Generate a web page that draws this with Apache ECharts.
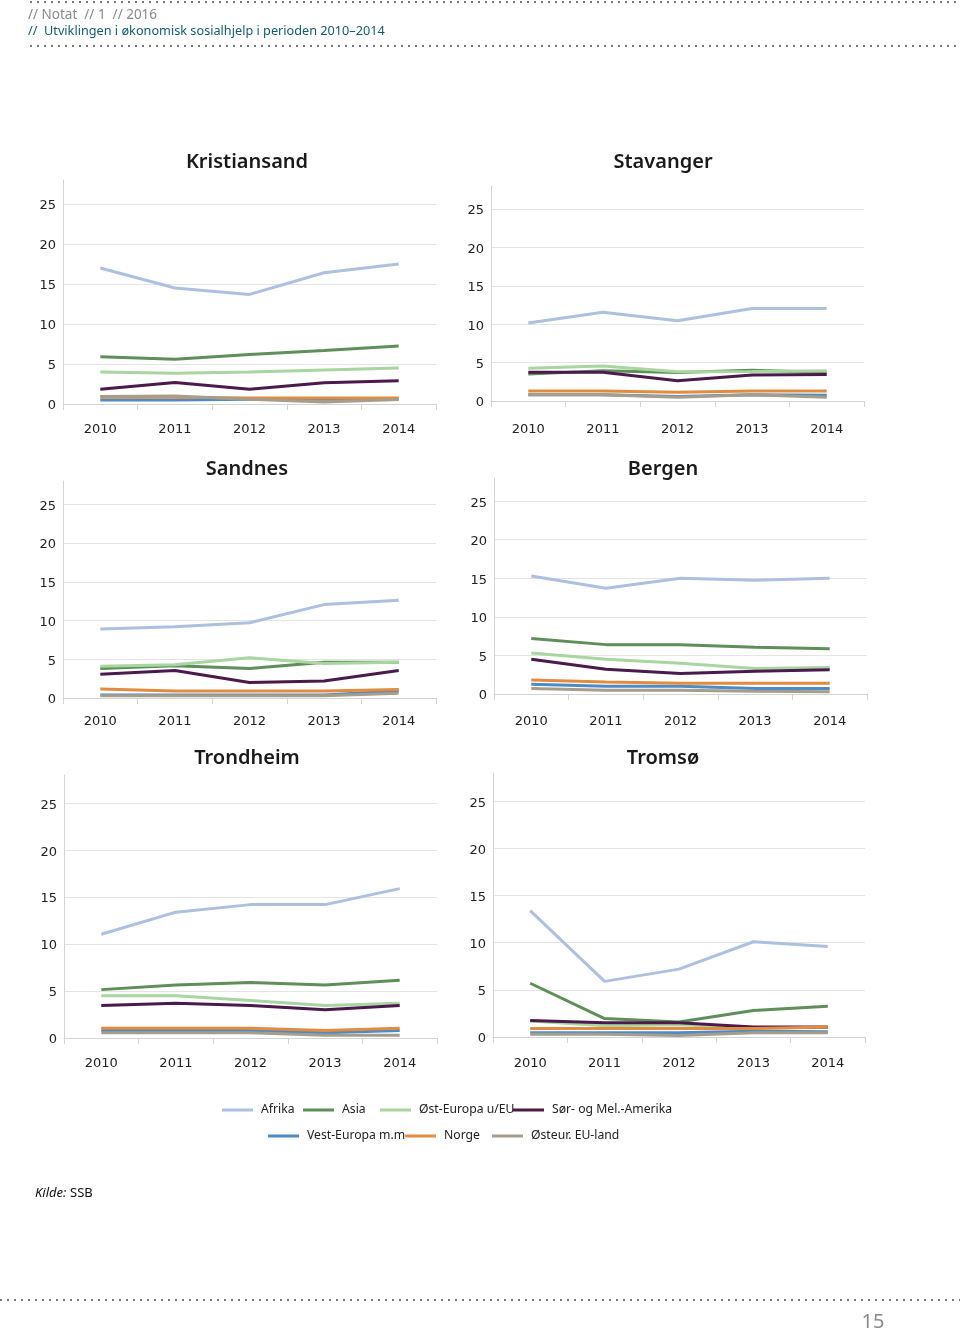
<!DOCTYPE html>
<html><head><meta charset="utf-8">
<script src="https://cdn.jsdelivr.net/npm/echarts@6/dist/echarts.min.js"></script>
<style>html,body{margin:0;padding:0;background:#fff}#c{width:960px;height:1334px}</style>
</head><body><div id="c"></div><script>
// ---------- data ----------
const years = ['2010', '2011', '2012', '2013', '2014'];
const groups = ['Afrika', 'Asia', 'Øst-Europa u/EU', 'Sør- og Mel.-Amerika', 'Vest-Europa m.m', 'Norge', 'Østeur. EU-land'];
const cities = ['Kristiansand', 'Stavanger', 'Sandnes', 'Bergen', 'Trondheim', 'Tromsø'];
const yTicks = [0, 5, 10, 15, 20, 25];

// rows follow the order of `groups`
const kristiansand = [
  [17.0, 14.5, 13.7, 16.4, 17.5],
  [5.9, 5.6, 6.2, 6.7, 7.25],
  [4.0, 3.85, 4.0, 4.25, 4.5],
  [1.85, 2.7, 1.85, 2.65, 2.9],
  [0.5, 0.5, 0.6, 0.6, 0.6],
  [0.85, 0.85, 0.75, 0.75, 0.75],
  [0.95, 1.0, 0.6, 0.25, 0.55]
];
const stavanger = [
  [10.15, 11.55, 10.45, 12.05, 12.05],
  [3.5, 3.95, 3.7, 4.0, 3.7],
  [4.25, 4.55, 3.8, 3.85, 3.95],
  [3.75, 3.75, 2.65, 3.4, 3.45],
  [0.8, 0.8, 0.6, 0.8, 0.75],
  [1.3, 1.3, 1.15, 1.3, 1.3],
  [0.8, 0.8, 0.5, 0.8, 0.5]
];
const sandnes = [
  [8.9, 9.2, 9.7, 12.05, 12.6],
  [3.8, 4.15, 3.8, 4.6, 4.6],
  [4.1, 4.3, 5.2, 4.45, 4.6],
  [3.05, 3.55, 2.0, 2.2, 3.55],
  [0.4, 0.4, 0.4, 0.4, 0.9],
  [1.15, 0.9, 0.9, 0.9, 1.1],
  [0.3, 0.3, 0.3, 0.3, 0.6]
];
const bergen = [
  [15.3, 13.7, 15.0, 14.75, 15.0],
  [7.2, 6.4, 6.4, 6.05, 5.85],
  [5.3, 4.5, 4.0, 3.3, 3.45],
  [4.5, 3.2, 2.65, 2.95, 3.15],
  [1.25, 1.0, 1.0, 0.7, 0.7],
  [1.8, 1.55, 1.4, 1.4, 1.4],
  [0.7, 0.5, 0.5, 0.35, 0.3]
];
const trondheim = [
  [11.05, 13.4, 14.2, 14.2, 15.9],
  [5.15, 5.65, 5.9, 5.65, 6.15],
  [4.5, 4.5, 4.0, 3.45, 3.7],
  [3.45, 3.7, 3.45, 3.0, 3.45],
  [0.8, 0.8, 0.8, 0.55, 0.8],
  [1.05, 1.05, 1.05, 0.8, 1.05],
  [0.55, 0.55, 0.55, 0.3, 0.3]
];
const tromso = [
  [13.4, 5.9, 7.2, 10.1, 9.6],
  [5.7, 1.95, 1.6, 2.8, 3.25],
  [1.7, 1.2, 1.3, 0.95, 1.0],
  [1.75, 1.5, 1.5, 1.05, 1.05],
  [0.45, 0.45, 0.45, 0.6, 0.55],
  [0.9, 0.9, 0.9, 0.9, 1.05],
  [0.3, 0.3, 0.15, 0.45, 0.45]
];
const cityData = [kristiansand, stavanger, sandnes, bergen, trondheim, tromso];

// ---------- style / layout ----------
const colors = ['#adc0df', '#5e8f58', '#a9d5a1', '#4b1a4c', '#4c8bc6', '#e38b3e', '#a59e8c'];
const gridBoxes = [
  {left: 63, top: 180, width: 373, height: 224},
  {left: 491, top: 186, width: 373, height: 215},
  {left: 63, top: 481, width: 373, height: 217},
  {left: 494, top: 478, width: 373, height: 216},
  {left: 64, top: 775, width: 373, height: 263},
  {left: 493, top: 773, width: 372, height: 264}
];
const xLabelMargins = [19, 22, 17, 21, 19, 20];
const titlePos = [[247, 162], [663, 162], [247, 469], [663, 469], [247, 758], [663, 758]];
const legendPos = [[222, 1104], [303, 1104], [380, 1104], [513, 1104], [268, 1130], [405, 1130], [492, 1130]];

const axisGray = '#d4d4d4';
const gridGray = '#e4e4e4';
const tickFont = 'DejaVu Sans, Verdana, sans-serif';
const uiFont = '"Noto Sans", "Open Sans", sans-serif';

const grid = [], xAxis = [], yAxis = [], series = [];
gridBoxes.forEach((b, i) => {
  grid.push(Object.assign({containLabel: false}, b));
  xAxis.push({
    type: 'category', gridIndex: i, data: years, boundaryGap: true,
    axisLine: {show: true, lineStyle: {color: axisGray, width: 1}},
    axisTick: {show: true, length: 6, lineStyle: {color: axisGray}},
    axisLabel: {color: '#222', fontSize: 13, fontFamily: tickFont, margin: xLabelMargins[i]},
    splitLine: {show: false}
  });
  yAxis.push({
    type: 'value', gridIndex: i, min: 0, max: 28, interval: 5,
    axisLine: {show: true, lineStyle: {color: axisGray}},
    axisTick: {show: false},
    axisLabel: {color: '#222', fontSize: 13, fontFamily: tickFont, margin: 7, showMaxLabel: false,
      verticalAlign: 'top', lineHeight: 4,
      formatter: v => (yTicks.indexOf(v) >= 0 ? String(v) : '')},
    splitLine: {show: true, showMinLine: false, showMaxLine: false, lineStyle: {color: gridGray, width: 1}}
  });
  cityData[i].forEach((vals, k) => {
    series.push({
      type: 'line', name: groups[k], xAxisIndex: i, yAxisIndex: i, data: vals,
      showSymbol: false, symbol: 'none', smooth: false, animation: false,
      lineStyle: {color: colors[k], width: 3}, itemStyle: {color: colors[k]},
      emphasis: {disabled: true}
    });
  });
});

const legend = groups.map((g, k) => ({
  data: [g], left: legendPos[k][0], top: legendPos[k][1], padding: 0,
  icon: 'rect', itemWidth: 31, itemHeight: 3, selectedMode: false,
  textStyle: {color: '#222', fontSize: 12.2, fontFamily: uiFont, padding: [0, 0, 0, 3]}
}));

const graphic = [];
cities.forEach((c, i) => {
  graphic.push({type: 'text', x: titlePos[i][0], y: titlePos[i][1], silent: true,
    style: {text: c, fill: '#1a1a1a', font: '600 20px ' + uiFont, textAlign: 'center', textVerticalAlign: 'middle'}});
});
function dots(x1, x2, y) {
  return {type: 'line', silent: true, shape: {x1: x1, y1: y, x2: x2, y2: y},
    style: {stroke: '#7a7a7a', lineWidth: 2, lineDash: [2, 5]}};
}
graphic.push(dots(30, 960, 2), dots(30, 960, 46), dots(0, 960, 1300));
graphic.push(
  {type: 'text', x: 28, y: 15, silent: true, style: {text: '// Notat  // 1  // 2016', fill: '#8a8a8a', font: '13.5px ' + uiFont, textVerticalAlign: 'middle'}},
  {type: 'text', x: 28, y: 31, silent: true, style: {text: '//  Utviklingen i økonomisk sosialhjelp i perioden 2010–2014', fill: '#145c70', font: '12.7px ' + uiFont, textVerticalAlign: 'middle'}},
  {type: 'text', x: 35, y: 1193, silent: true, style: {text: 'Kilde:', fill: '#111', font: 'italic 13px ' + uiFont, textVerticalAlign: 'middle'}},
  {type: 'text', x: 70, y: 1193, silent: true, style: {text: 'SSB', fill: '#111', font: '13px ' + uiFont, textVerticalAlign: 'middle'}},
  {type: 'text', x: 873, y: 1322, silent: true, style: {text: '15', fill: '#8a8a8a', font: '20px ' + uiFont, textAlign: 'center', textVerticalAlign: 'middle'}}
);

const chart = echarts.init(document.getElementById('c'), null, {renderer: 'canvas'});
chart.setOption({
  backgroundColor: '#fff', animation: false,
  grid, xAxis, yAxis, series, legend, graphic
});
</script></body></html>
